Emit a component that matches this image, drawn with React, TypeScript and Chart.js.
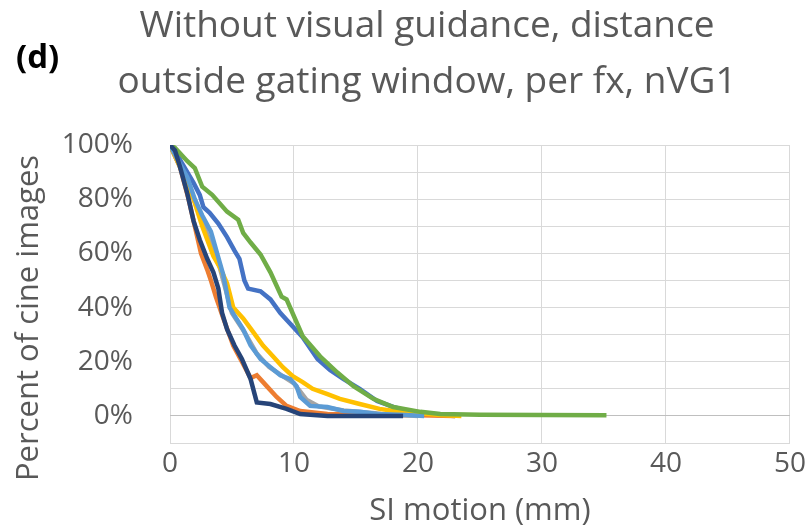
import React, { useEffect, useRef } from "react";
import { Chart, registerables } from "chart.js";

Chart.register(...registerables);

const titleLines = ["Without visual guidance, distance", "outside gating window, per fx, nVG1"];
const panelLabel = "(d)";
const yAxisTitle = "Percent of cine images";
const xAxisTitle = "SI motion (mm)";

const blueX = [0, 0.4, 1.0, 1.9, 2.4, 2.7, 3.2, 3.9, 4.6, 5.2, 5.6, 6.0, 6.3, 7.3, 8.1, 8.9, 9.9, 10.7, 11.9, 12.9, 14.0, 15.3, 16.7, 18.0, 19.4, 21, 23];
const blueY = [100, 98, 93, 86, 81.6, 77, 75, 71, 66, 61, 58, 50, 47, 46, 43, 38, 33, 29, 21, 17, 13.6, 10, 5.5, 3.3, 1.5, 0.5, 0];

const orangeX = [0, 0.8, 1.5, 2.0, 2.5, 3.0, 3.3, 3.7, 4.3, 5.1, 5.8, 6.5, 7.0, 7.8, 8.6, 9.4, 10.5, 12.7, 16, 20, 23];
const orangeY = [100, 92, 80, 70, 60, 54, 50, 44, 36, 26, 20, 14, 15, 11, 7, 3.7, 1.8, 0.7, 0.3, 0.2, 0];

const grayX = [0, 1, 2, 3, 4, 5, 6, 6.5, 7, 8, 9, 10, 11, 12, 14, 17, 20];
const grayY = [100, 90, 79, 67, 55, 38, 31, 27, 23, 18, 15, 12, 6, 3.5, 2, 0.8, 0];

const yellowX = [0, 0.8, 1.9, 2.6, 3.5, 4.0, 4.6, 5.1, 5.9, 6.7, 7.5, 8.3, 9.1, 9.9, 10.7, 11.5, 12.7, 13.7, 15.3, 16.9, 18.5, 21.8, 23.5];
const yellowY = [100, 92, 80, 70, 59, 55, 49, 40, 36, 31, 26, 22, 18, 14.7, 12.5, 10, 8, 6.3, 4.4, 2.6, 1.5, 0.3, 0];

const lightBlueX = [0, 0.8, 1.4, 2.0, 2.6, 3.3, 3.8, 4.3, 4.8, 5.2, 5.9, 6.5, 7.3, 8.1, 8.9, 9.7, 10.2, 10.5, 11.3, 12.7, 14, 15.3, 16.7, 19, 20.5];
const lightBlueY = [100, 93, 88, 80, 74, 68, 60, 52, 40, 37, 32, 26, 21, 18, 15, 13.6, 11, 7, 3.7, 3.3, 1.8, 1.5, 0.7, 0.3, 0];

const greenX = [0, 0.4, 1.4, 2.0, 2.6, 3.4, 4.6, 5.5, 5.9, 6.5, 7.3, 8.1, 9.0, 9.4, 10.7, 12.1, 13.5, 14.8, 16.4, 18, 20.2, 21.8, 25, 30, 35.2];
const greenY = [100, 99, 94, 91.5, 84.6, 81.6, 75.4, 72.4, 67.6, 64, 59.6, 53, 44, 43, 29.4, 22, 16, 11, 6.3, 3.3, 1.5, 0.7, 0.4, 0.3, 0.2];

const navyX = [0, 0.4, 0.8, 1.4, 1.9, 2.4, 3.0, 3.5, 3.9, 4.2, 4.6, 5.2, 5.8, 6.5, 7.0, 8.1, 9.4, 10.5, 12.7, 18.8];
const navyY = [100, 98, 92, 82, 72, 65, 58, 53, 47, 38, 32, 26, 21, 13.6, 5, 4.4, 2.6, 0.7, 0, 0];

const TEXT = "#595959";
const FONT = "'Open Sans', Lato, sans-serif";

function pts(xs: number[], ys: number[]) {
  return xs.map((x, i) => ({ x, y: ys[i] }));
}

const textPlugin = {
  id: "panelText",
  afterDraw(chart: any) {
    const ctx = chart.ctx;
    const area = chart.chartArea;
    ctx.save();
    ctx.fillStyle = TEXT;
    ctx.font = `37px ${FONT}`;
    ctx.textAlign = "center";
    ctx.textBaseline = "alphabetic";
    ctx.fillText(titleLines[0], 427, 37);
    ctx.fillText(titleLines[1], 427, 93);
    ctx.fillStyle = "#000000";
    ctx.font = `bold 33px ${FONT}`;
    ctx.textAlign = "left";
    ctx.fillText(panelLabel, 16, 68);
    ctx.fillStyle = TEXT;
    ctx.font = `31px ${FONT}`;
    ctx.textAlign = "center";
    ctx.fillText(xAxisTitle, (area.left + area.right) / 2, 520);
    ctx.translate(38, 318);
    ctx.rotate(-Math.PI / 2);
    ctx.fillText(yAxisTitle, 0, 0);
    ctx.restore();
  },
};

export default function App() {
  const ref = useRef<HTMLCanvasElement>(null);
  useEffect(() => {
    if (!ref.current) return;
    const mk = (label: string, xs: number[], ys: number[], color: string, order: number) => ({
      label,
      data: pts(xs, ys),
      borderColor: color,
      backgroundColor: color,
      borderWidth: 4.5,
      pointRadius: 0,
      tension: 0,
      fill: false,
      order,
    });
    const chart = new Chart(ref.current, {
      type: "line",
      data: {
        datasets: [
          mk("Fx1", blueX, blueY, "#4472C4", 7),
          mk("Fx2", orangeX, orangeY, "#ED7D31", 6),
          mk("Fx3", grayX, grayY, "#A5A5A5", 5),
          mk("Fx4", yellowX, yellowY, "#FFC000", 4),
          mk("Fx5", lightBlueX, lightBlueY, "#5B9BD5", 3),
          mk("Fx6", greenX, greenY, "#70AD47", 2),
          mk("Fx7", navyX, navyY, "#264478", 1),
        ],
      },
      options: {
        animation: false,
        responsive: false,
        layout: { padding: { top: 145, right: 20, bottom: 0, left: 0 } },
        plugins: { legend: { display: false }, title: { display: false }, tooltip: { enabled: false } },
        scales: {
          x: {
            type: "linear",
            min: 0,
            max: 50,
            ticks: { stepSize: 10, color: TEXT, font: { family: FONT, size: 28 }, padding: 4, maxRotation: 0, autoSkip: false },
            grid: { color: "#d9d9d9", lineWidth: 1, drawTicks: false },
            border: { display: false },
            title: { display: false, text: xAxisTitle },
            afterFit: (s: any) => { s.height = 83; },
          },
          y: {
            type: "linear",
            min: -10,
            max: 100,
            ticks: {
              stepSize: 10,
              autoSkip: false,
              color: TEXT,
              font: { family: FONT, size: 28 },
              padding: 37,
              callback: (v: any) => {
                const n = Math.round(Number(v));
                return n >= 0 && n % 20 === 0 ? `${n}%` : "";
              },
            },
            grid: {
              color: (c: any) => (c.tick && Math.round(c.tick.value) === 0 ? "#bfbfbf" : "#d9d9d9"),
              lineWidth: 1,
              drawTicks: false,
            },
            border: { display: false },
            title: { display: false, text: yAxisTitle },
            afterFit: (s: any) => { s.width = 170; },
          },
        },
      },
      plugins: [textPlugin],
    } as any);
    return () => chart.destroy();
  }, []);
  return (
    <div style={{ position: "absolute", left: 0, top: 0, width: 810, height: 526, background: "#fff" }}>
      <canvas ref={ref} width={810} height={526} />
    </div>
  );
}
